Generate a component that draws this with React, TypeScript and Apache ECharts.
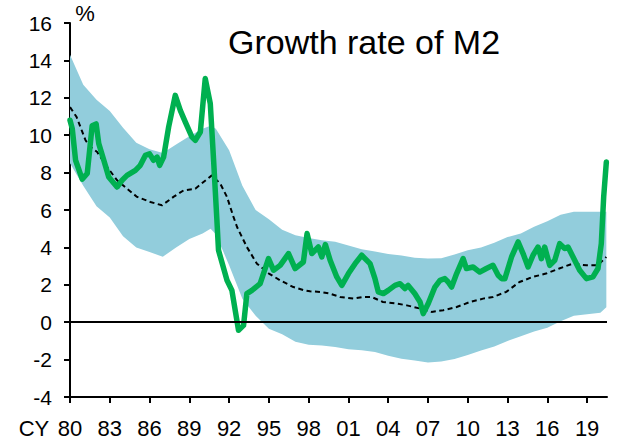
import React, { useEffect, useRef } from "react";
import * as echarts from "echarts";

// ---- data ----
const m2Years = [
  1980.0, 1980.17, 1980.42, 1980.92, 1981.3, 1981.67, 1981.97, 1982.17, 1982.55, 1982.92,
  1983.55, 1983.93, 1984.3, 1984.93, 1985.3, 1985.68, 1986.0, 1986.3, 1986.57, 1986.76,
  1987.06, 1987.44, 1987.94, 1988.32, 1988.7, 1989.2, 1989.45, 1989.83, 1990.2, 1990.58,
  1990.83, 1991.08, 1991.2, 1991.84, 1992.21, 1992.71, 1993.09, 1993.34, 1993.72, 1994.34,
  1994.97, 1995.35, 1995.85, 1996.48, 1996.98, 1997.6, 1997.88, 1998.24, 1998.73, 1998.99,
  1999.26, 1999.62, 2000.12, 2000.5, 2001.0, 2001.5, 2002.0, 2002.63, 2003.0, 2003.25,
  2003.63, 2004.0, 2004.51, 2004.89, 2005.26, 2005.5, 2006.0, 2006.4, 2006.64, 2007.02,
  2007.52, 2007.9, 2008.27, 2008.52, 2008.78, 2009.16, 2009.65, 2009.9, 2010.4, 2010.9,
  2011.4, 2011.9, 2012.29, 2012.55, 2012.8, 2013.3, 2013.8, 2014.17, 2014.55, 2014.92,
  2015.3, 2015.55, 2015.8, 2016.18, 2016.56, 2016.93, 2017.31, 2017.56, 2017.94, 2018.44,
  2018.95, 2019.44, 2019.82, 2020.07, 2020.25, 2020.45,
];
const m2Growth = [
  10.8, 10.35, 8.66, 7.65, 7.95, 10.5, 10.6, 9.55, 8.66, 7.77,
  7.23, 7.59, 7.85, 8.12, 8.39, 8.92, 9.0, 8.66, 8.83, 8.39,
  8.83, 10.44, 12.13, 11.33, 10.7, 9.9, 9.73, 10.17, 13.03, 11.69,
  8.66, 5.45, 3.85, 2.24, 1.7, -0.43, -0.17, 1.53, 1.7, 2.06,
  3.4, 2.78, 3.04, 3.67, 2.87, 3.22, 4.74, 3.67, 4.02, 3.49,
  4.15, 3.31, 2.42, 1.97, 2.6, 3.13, 3.58, 3.13, 2.33, 1.62,
  1.53, 1.7, 1.97, 2.06, 1.8, 1.97, 1.53, 1.08, 0.46, 1.0,
  1.88, 2.24, 2.33, 2.15, 1.88, 2.6, 3.4, 2.87, 2.95, 2.68,
  2.87, 3.04, 2.51, 2.33, 2.33, 3.49, 4.29, 3.67, 2.95, 3.58,
  4.02, 3.4, 4.02, 3.04, 3.31, 4.2, 3.94, 4.02, 3.49, 2.78,
  2.33, 2.42, 2.87, 4.2, 6.7, 8.57,
];

const trendYears = [
  1980.0, 1980.5, 1981.17, 1981.55, 1982.05, 1982.8, 1983.55, 1984.3, 1985.06, 1986.06,
  1986.94, 1987.8, 1988.57, 1989.45, 1990.07, 1990.7, 1991.33, 1991.84, 1992.33, 1992.6,
  1993.34, 1994.1, 1995.0, 1995.85, 1996.85, 1997.7, 1998.1, 1998.86, 1999.6, 2000.37,
  2001.37, 2002.1, 2002.75, 2003.6, 2004.64, 2005.4, 2006.4, 2007.27, 2008.15, 2009.16,
  2010.16, 2011.16, 2011.9, 2012.9, 2013.9, 2014.9, 2015.9, 2016.9, 2017.9, 2018.95,
  2019.8, 2020.45,
];
const trendValues = [
  11.5, 10.97, 9.73, 9.37, 9.1, 8.3, 7.59, 7.14, 6.7, 6.43,
  6.25, 6.7, 7.05, 7.14, 7.5, 7.85, 7.41, 6.7, 5.63, 5.09,
  4.02, 3.13, 2.6, 2.24, 1.88, 1.7, 1.65, 1.62, 1.53, 1.35,
  1.26, 1.35, 1.35, 1.08, 1.0, 0.9, 0.73, 0.55, 0.64, 0.81,
  1.08, 1.26, 1.35, 1.62, 2.15, 2.42, 2.6, 2.87, 3.13, 3.04,
  3.04, 3.49,
];

const bandYears = [
  1980, 1981, 1982, 1983, 1984, 1985, 1986, 1987, 1988, 1989,
  1990, 1990.6, 1991, 1992, 1993, 1994, 1995, 1996, 1997, 1998,
  1999, 2000, 2001, 2002, 2003, 2004, 2005, 2006, 2007, 2008,
  2009, 2010, 2011, 2012, 2013, 2014, 2015, 2016, 2017, 2018,
  2019, 2020, 2020.45,
];
const bandUpper = [
  14.3, 12.7, 11.9, 11.3, 10.4, 9.6, 9.25, 9.05, 9.5, 9.95,
  10.35, 10.5, 10.35, 9.2, 7.3, 6.0, 5.5, 4.95, 4.65, 4.5,
  4.38, 4.3, 4.1, 3.9, 3.78, 3.65, 3.57, 3.45, 3.4, 3.42,
  3.62, 3.85, 4.0, 4.25, 4.55, 4.75, 5.1, 5.4, 5.75, 5.9,
  5.9, 5.9, 5.9,
];
const bandLower = [
  8.5, 7.3, 6.2, 5.6, 4.6, 4.0, 3.75, 3.5, 4.0, 4.45,
  4.75, 5.0, 4.7, 3.05, 1.25, 0.35, -0.35, -0.65, -1.05, -1.2,
  -1.25, -1.32, -1.45, -1.5, -1.6, -1.8, -1.95, -2.05, -2.15, -2.1,
  -1.97, -1.75, -1.52, -1.3, -1.0, -0.75, -0.5, -0.3, 0.05, 0.35,
  0.42, 0.5, 0.8,
];

const xTickYears = [1980, 1983, 1986, 1989, 1992, 1995, 1998, 2001, 2004, 2007, 2010, 2013, 2016, 2019];
const xMin = 1980;
const xMax = 2020.5;
const yMin = -4;
const yMax = 16;
const yStep = 2;

const titleText = "Growth rate of M2";
const unitText = "%";
const xPrefixText = "CY";

const FONT = "'Liberation Sans', Arial, Helvetica, sans-serif";

export default function App() {
  const ref = useRef<HTMLDivElement>(null);

  useEffect(() => {
    if (!ref.current) return;
    const chart = echarts.init(ref.current, null, { renderer: "svg" });
    const pair = (xs: number[], ys: number[]) => xs.map((x, i) => [x, ys[i]]);

    chart.setOption({
      animation: false,
      backgroundColor: "#ffffff",
      grid: { left: 70, right: 17, top: 23, bottom: 43, containLabel: false },
      xAxis: {
        type: "value",
        min: xMin,
        max: xMax,
        axisLine: { show: true, onZero: false, lineStyle: { color: "#000", width: 2 } },
        axisTick: {
          show: true,
          customValues: xTickYears,
          length: 6,
          lineStyle: { color: "#000", width: 2 },
        },
        axisLabel: {
          customValues: xTickYears,
          formatter: (v: number) => String(Math.round(v) % 100).padStart(2, "0"),
          fontSize: 22,
          fontFamily: FONT,
          color: "#000",
          margin: 20,
        },
        splitLine: { show: false },
      },
      yAxis: {
        type: "value",
        min: yMin,
        max: yMax,
        interval: yStep,
        axisLine: { show: true, onZero: false, lineStyle: { color: "#000", width: 2 } },
        axisTick: { show: true, length: 6, lineStyle: { color: "#000", width: 2 } },
        axisLabel: { fontSize: 21, fontFamily: FONT, color: "#000", margin: 18 },
        splitLine: { show: false },
      },
      series: [
        {
          type: "custom",
          name: "range",
          silent: true,
          data: [[xMin, 0]],
          renderItem: (_params: any, api: any) => {
            const top = bandYears.map((x, i) => api.coord([x, bandUpper[i]]));
            const bottom = bandYears.map((x, i) => api.coord([x, bandLower[i]])).reverse();
            return {
              type: "polygon",
              shape: { points: top.concat(bottom) },
              style: { fill: "#92CDDC", stroke: "none" },
            };
          },
        },
        {
          type: "line",
          name: "trend",
          data: pair(trendYears, trendValues),
          symbol: "none",
          lineStyle: { color: "#000", width: 2, type: [5, 3.5] },
          markLine: {
            silent: true,
            symbol: ["none", "none"],
            label: { show: false },
            lineStyle: { color: "#000", width: 2, type: "solid" },
            data: [{ yAxis: 0 }],
          },
        },
        {
          type: "line",
          name: "M2",
          data: pair(m2Years, m2Growth),
          symbol: "none",
          lineStyle: { color: "#00B050", width: 5.5, join: "round", cap: "round" },
        },
      ],
      graphic: [
        {
          type: "text",
          x: 364,
          y: 42,
          style: {
            text: titleText,
            fontSize: 34,
            fontFamily: FONT,
            fill: "#000",
            align: "center",
            verticalAlign: "middle",
          },
        },
        {
          type: "text",
          x: 85,
          y: 13,
          style: {
            text: unitText,
            fontSize: 22,
            fontFamily: FONT,
            fill: "#000",
            align: "center",
            verticalAlign: "middle",
          },
        },
        {
          type: "text",
          x: 34,
          y: 428,
          style: {
            text: xPrefixText,
            fontSize: 22,
            fontFamily: FONT,
            fill: "#000",
            align: "center",
            verticalAlign: "middle",
          },
        },
      ],
    });

    return () => chart.dispose();
  }, []);

  return (
    <div
      ref={ref}
      style={{ position: "absolute", left: 0, top: 0, width: 624, height: 440, background: "#fff" }}
    />
  );
}
